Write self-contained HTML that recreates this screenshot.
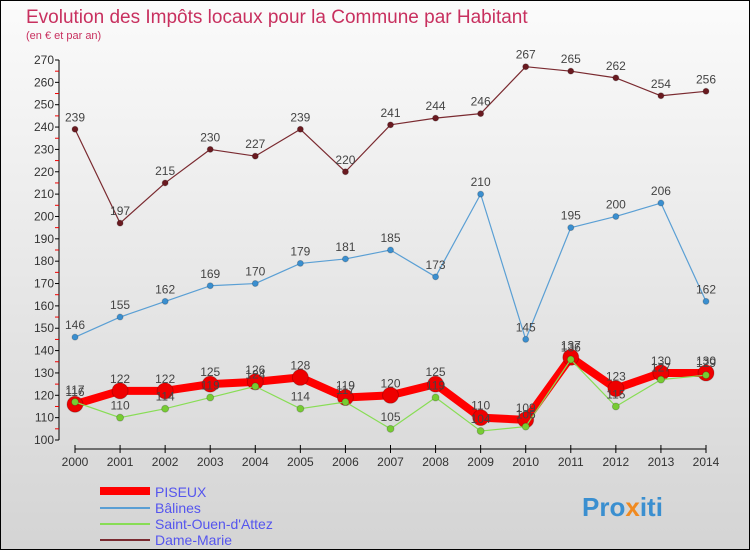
<!DOCTYPE html>
<html><head><meta charset="utf-8"><style>
body{margin:0;width:750px;height:550px;overflow:hidden;font-family:"Liberation Sans",sans-serif}
</style></head><body>
<svg width="750" height="550" xmlns="http://www.w3.org/2000/svg" id="svg">
<defs><linearGradient id="bg" x1="0" y1="0" x2="0" y2="1"><stop offset="0" stop-color="#fbfbfb"/><stop offset="1" stop-color="#d4d4d4"/></linearGradient></defs>
<rect x="0.5" y="0.5" width="749" height="549" fill="url(#bg)" stroke="#000"/>
<text x="26" y="23" font-size="19" fill="#c8305f">Evolution des Impôts locaux pour la Commune par Habitant</text>
<text x="26" y="39" font-size="11" fill="#c8305f">(en € et par an)</text>
<g id="axes"></g><g id="series"></g>
<g font-size="14" fill="#5555ee">
<rect x="100" y="487" width="50" height="8" fill="#ff0000"/>
<text x="155" y="497">PISEUX</text>
<rect x="100" y="507" width="50" height="2" fill="#5a9fd4"/>
<text x="155" y="513">Bâlines</text>
<rect x="100" y="523" width="50" height="2" fill="#88dd55"/>
<text x="155" y="529">Saint-Ouen-d'Attez</text>
<rect x="100" y="539" width="50" height="2" fill="#7a2a30"/>
<text x="155" y="545">Dame-Marie</text>
</g>
<text x="582" y="516" font-size="26" font-weight="bold" fill="#3a8fd0">Pro<tspan fill="#f08a20">x</tspan>iti</text>
</svg>
<script>
const years=[2000,2001,2002,2003,2004,2005,2006,2007,2008,2009,2010,2011,2012,2013,2014];
const yTicks=[100,110,120,130,140,150,160,170,180,190,200,210,220,230,240,250,260,270];
const piseux=[116,122,122,125,126,128,119,120,125,110,109,137,123,130,130];
const balines=[146,155,162,169,170,179,181,185,173,210,145,195,200,206,162];
const saintOuen=[117,110,114,119,124,114,117,105,119,104,106,136,115,127,129];
const dameMarie=[239,197,215,230,227,239,220,241,244,246,267,265,262,254,256];
const NS='http://www.w3.org/2000/svg';
const X=i=>75+i*(706-75)/(years.length-1);
const Y=v=>440-(v-100)*(380/170);
function mk(t,a,p){const e=document.createElementNS(NS,t);for(const k in a)e.setAttribute(k,a[k]);p.appendChild(e);return e;}
const ax=document.getElementById('axes');
let e=mk('line',{x1:59,y1:Y(270),x2:59,y2:Y(100),stroke:'#000'},ax);


e=mk('line',{x1:X(0),y1:449,x2:X(14),y2:449,stroke:'#000'},ax);


yTicks.forEach(v=>{
 mk('line',{x1:55,y1:Y(v),x2:59,y2:Y(v),stroke:'#000'},ax);
 if(v<270)mk('line',{x1:55,y1:Y(v+5),x2:59,y2:Y(v+5),stroke:'#e00'},ax);
 const t=mk('text',{x:54,y:Y(v)+4,'text-anchor':'end','font-size':12,fill:'#333'},ax);
 t.textContent=v;
 
 
});
years.forEach((yr,i)=>{
 mk('line',{x1:X(i),y1:445,x2:X(i),y2:453,stroke:'#000'},ax);
 const t=mk('text',{x:X(i),y:466,'text-anchor':'middle','font-size':12,fill:'#333'},ax);
 t.textContent=yr;
 
 
});
const sg=document.getElementById('series');
function series(vals,name,color,w,r,dot,lab){
 const g=mk('g',{},sg);
 
 
 const p=mk('polyline',{points:vals.map((v,i)=>X(i)+','+Y(v)).join(' '),fill:'none',stroke:color,'stroke-width':w,'stroke-linejoin':'round'},g);
 
 
 vals.forEach((v,i)=>{
  const c=mk('circle',{cx:X(i),cy:Y(v),r:r,fill:dot,stroke:'#0003'},g);
  
  
  if(lab){const t=mk('text',{x:X(i),y:Y(v)-8,'text-anchor':'middle','font-size':12,fill:'#444'},g);
  t.textContent=v;
  
  }
 });
}
series(dameMarie,'dame-marie','#7a2a30',1.2,3,'#6a1a20',true);
series(balines,'balines','#5a9fd4',1.2,3,'#3a8fd0',true);
series(piseux,'piseux','#ff0000',8,8,'#ee0000',true);
series(saintOuen,'saint-ouen','#88dd55',1.2,3.5,'#77cc33',true);
</script>
</body></html>
